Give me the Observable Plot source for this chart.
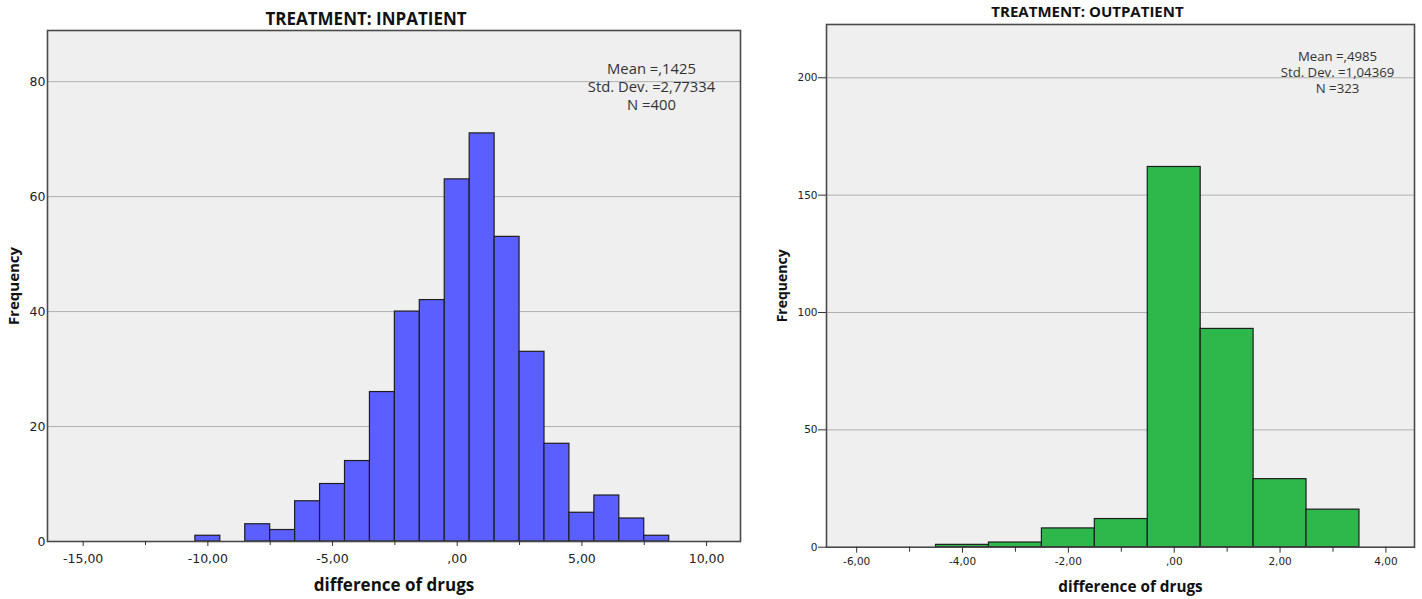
<!DOCTYPE html>
<html>
<head>
<meta charset="utf-8">
<script src="https://cdn.jsdelivr.net/npm/d3@7"></script>
<script src="https://cdn.jsdelivr.net/npm/@observablehq/plot@0.6"></script>
<style>
  html, body { margin: 0; padding: 0; background: #fff; }
  #wrap { position: relative; width: 1422px; height: 599px; overflow: hidden; }
  #wrap > svg { position: absolute; top: 0; overflow: visible; }
</style>
</head>
<body>
<div id="wrap"></div>
<script>
// Inpatient: frequency of the difference of drugs, bins of width 1 centred on integers
const inpatientBins   = [-10, -9, -8, -7, -6, -5, -4, -3, -2, -1, 0, 1, 2, 3, 4, 5, 6, 7, 8];
const inpatientCounts = [  1,  0,  3,  2,  7, 10, 14, 26, 40, 42, 63, 71, 53, 33, 17, 5, 8, 4, 1];
const inpatientXTicks = [-15, -10, -5, 0, 5, 10];
const inpatientXMinor = [-12.5, -7.5, -2.5, 2.5, 7.5];
const inpatientYTicks = [0, 20, 40, 60, 80];

// Outpatient
const outpatientBins   = [-4, -3, -2, -1, 0, 1, 2, 3];
const outpatientCounts = [ 1,  2,  8, 12, 162, 93, 29, 16];
const outpatientXTicks = [-6, -4, -2, 0, 2, 4];
const outpatientXMinor = [-5, -3, -1, 1, 3];
const outpatientYTicks = [0, 50, 100, 150, 200];

const titles = ["TREATMENT: INPATIENT", "TREATMENT: OUTPATIENT"];
const xTitle = "difference of drugs";
const yTitle = "Frequency";

// SPSS-style decimal comma, leading zero dropped
function spss(v, digits) {
  let s = v.toFixed(digits);
  s = s.replace(/^(-?)0\./, "$1.");
  return s.replace(".", ",");
}
const tickFmt = d => spss(d, 2);

function stats(bins, counts) {
  const n = d3.sum(counts);
  const mean = d3.sum(bins, (b, i) => b * counts[i]) / n;
  const ss = d3.sum(bins, (b, i) => counts[i] * (b - mean) ** 2);
  const sd = Math.sqrt(ss / (n - 1));
  return `Mean =${spss(mean, 4)}\nStd. Dev. =${spss(sd, 5)}\nN =${n}`;
}

function histogram(cfg) {
  const rows = cfg.bins.map((b, i) => ({x1: b - 0.5, x2: b + 0.5, count: cfg.counts[i]}))
    .filter(d => d.count > 0);
  return Plot.plot({
    width: cfg.width,
    height: 599,
    marginLeft: cfg.ml, marginRight: cfg.mr, marginTop: cfg.mt, marginBottom: cfg.mb,
    style: {fontFamily: "'Open Sans', 'DejaVu Sans', sans-serif", background: "transparent", color: "#222"},
    x: {domain: cfg.xDomain, label: null},
    y: {domain: cfg.yDomain, label: null},
    marks: [
      Plot.frame({fill: "#efefef", stroke: null}),
      Plot.ruleY(cfg.yTicks.filter(d => d > 0), {stroke: "#b0b0b0", strokeWidth: 1}),
      Plot.rectY(rows, {x1: "x1", x2: "x2", y: "count", fill: cfg.color, stroke: "#1e1e1e", strokeWidth: 1.2, inset: 0}),
      Plot.frame({stroke: "#4a4a4a", strokeWidth: 1.6}),
      Plot.axisX({ticks: cfg.xTicks, tickFormat: tickFmt, tickSize: cfg.xTickSize, tickPadding: cfg.xTickPad,
        fontSize: cfg.tickFont, fontFamily: "'DejaVu Sans', sans-serif", stroke: "#333", label: null}),
      Plot.axisX({ticks: cfg.xMinor, tickFormat: () => "", tickSize: cfg.xTickSize - 1, stroke: "#333", label: null}),
      Plot.axisY({ticks: cfg.yTicks, tickFormat: d => String(d), tickSize: cfg.yTickSize, tickPadding: cfg.yTickPad,
        fontSize: cfg.tickFont, fontFamily: "'DejaVu Sans', sans-serif", stroke: "#333", label: null}),
      Plot.text([cfg.title], {frameAnchor: "top", lineAnchor: "middle", dx: cfg.titleDx, dy: cfg.titleDy,
        fontSize: cfg.titleFont, fontWeight: "bold", fill: "#111", fontFamily: "'Open Sans', sans-serif"}),
      Plot.text([xTitle], {frameAnchor: "bottom", lineAnchor: "middle", dx: cfg.xTitleDx, dy: cfg.xTitleDy,
        fontSize: cfg.axisFont, fontWeight: "bold", fill: "#111", fontFamily: "'Open Sans', sans-serif"}),
      Plot.text([yTitle], {frameAnchor: "left", textAnchor: "middle", dx: cfg.yTitleDx, rotate: -90, fontSize: cfg.yAxisFont,
        fontWeight: "bold", fill: "#111", fontFamily: "'Open Sans', sans-serif"}),
      Plot.text([stats(cfg.bins, cfg.counts)], {frameAnchor: "top-right", textAnchor: "middle", lineAnchor: "top",
        dx: cfg.statDx, dy: cfg.statDy, fontSize: cfg.statFont, lineHeight: cfg.statLine, fill: "#333",
        fontFamily: "'Open Sans', sans-serif"})
    ]
  });
}

const left = histogram({
  bins: inpatientBins, counts: inpatientCounts, color: "#5b5fff",
  width: 760, ml: 47, mr: 20, mt: 30, mb: 58,
  xDomain: [-16.43, 11.36], yDomain: [0, 88.9],
  xTicks: inpatientXTicks, xMinor: inpatientXMinor, yTicks: inpatientYTicks,
  xTickSize: 5, xTickPad: 8, yTickSize: 0, yTickPad: 2, tickFont: 12.5,
  title: titles[0], titleDx: -28, titleDy: -11, titleFont: 17,
  xTitleDx: 0, xTitleDy: 44, axisFont: 17, yTitleDx: -33, yAxisFont: 15,
  statDx: -89, statDy: 31, statFont: 14.8, statLine: 18 / 14.8
});

const right = histogram({
  bins: outpatientBins, counts: outpatientCounts, color: "#2eb84b",
  width: 662, ml: 66, mr: 8, mt: 24, mb: 52.3,
  xDomain: [-6.57, 4.54], yDomain: [0, 222.7],
  xTicks: outpatientXTicks, xMinor: outpatientXMinor, yTicks: outpatientYTicks,
  xTickSize: 6, xTickPad: 4, yTickSize: 8, yTickPad: 1, tickFont: 10.5,
  title: titles[1], titleDx: -33, titleDy: -12, titleFont: 15,
  xTitleDx: 10, xTitleDy: 40, axisFont: 15.3, yTitleDx: -44, yAxisFont: 14,
  statDx: -77, statDy: 25, statFont: 13.2, statLine: 16 / 13.2
});

left.style.left = "0px";
right.style.left = "760px";
document.getElementById("wrap").append(left, right);
</script>
</body>
</html>
